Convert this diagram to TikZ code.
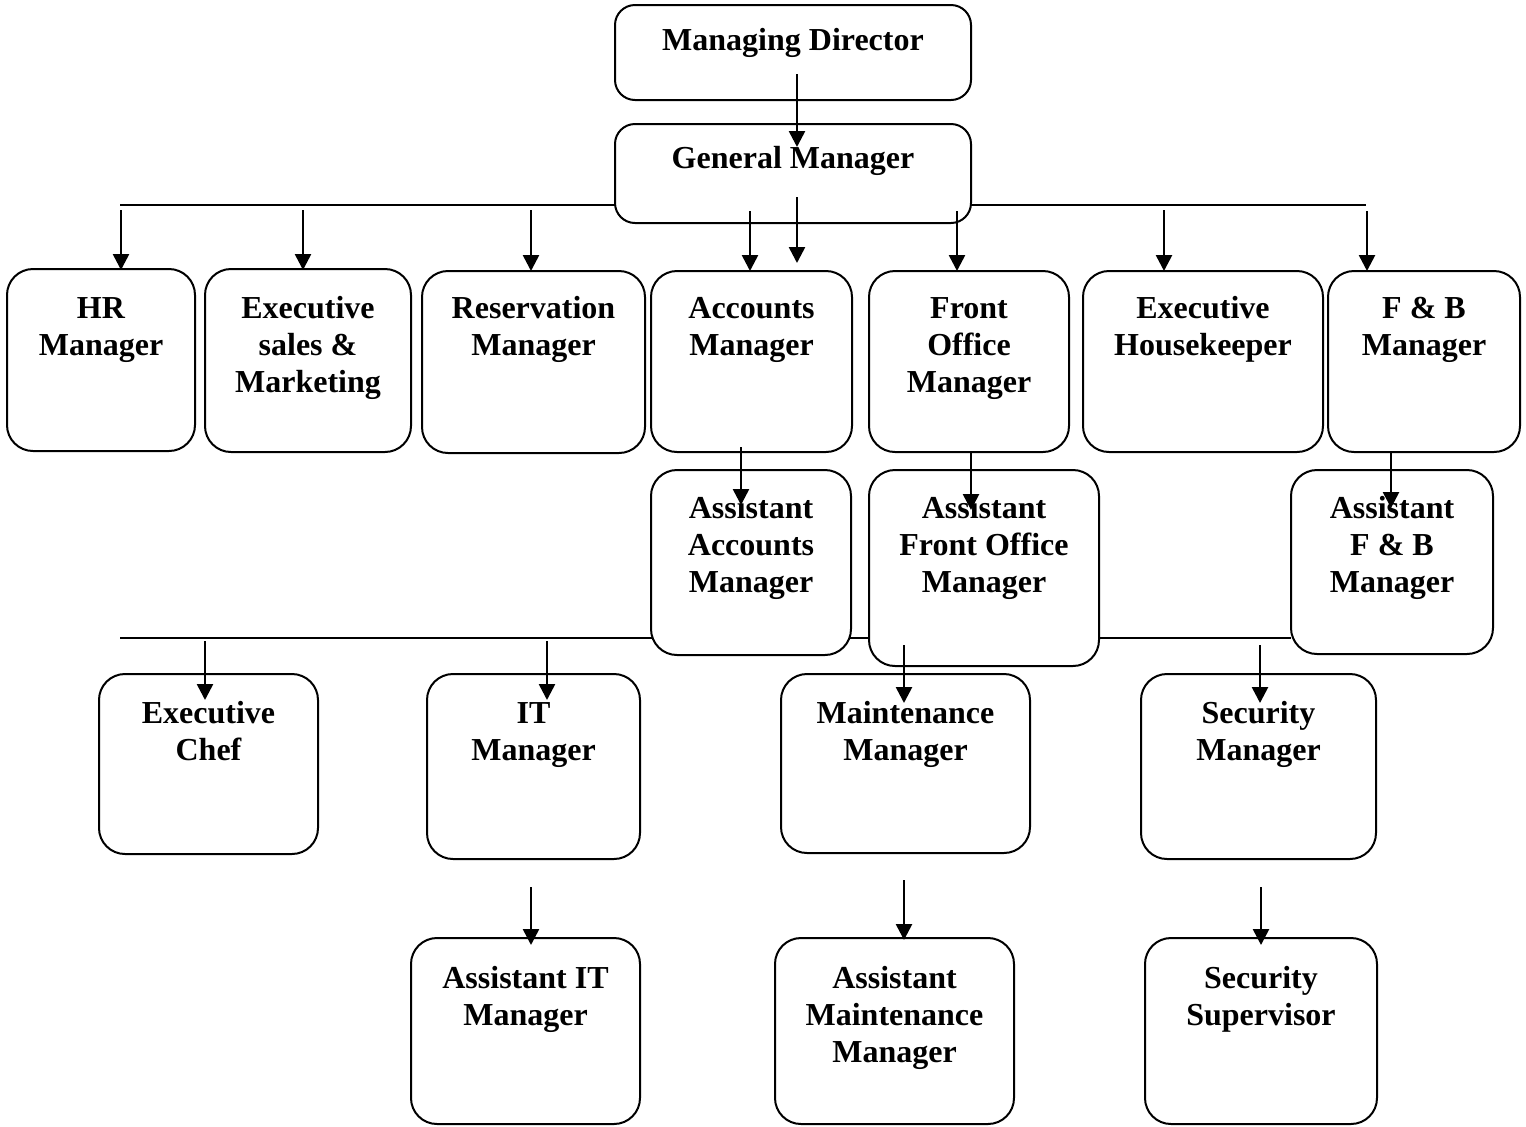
\documentclass[tikz,border=0pt]{standalone}
\usepackage{fontspec}
\setmainfont{Liberation Serif}
\usetikzlibrary{arrows.meta,fit}
\tikzset{
  obox/.style={draw, line width=1pt, fill=white, rounded corners=13pt, inner sep=0pt},
  tbox/.style={draw, line width=1pt, fill=white, rounded corners=10pt, inner sep=0pt},
  lbl/.style={anchor=base, inner sep=0pt, font={\fontsize{16}{18.5}\selectfont\bfseries}},
  arr/.style={line width=1.3pt, -{Triangle[length=8pt,width=8pt]}},
  hline/.style={line width=0.6pt}
}
% name, x1, y1, x2, y2, first baseline y, text
\newcommand\orgbox[8][obox]{%
  \node[#1, fit={(#3,#4) (#5,#6)}] (#2) {};
  \node[lbl] (#2-t) at ({(#3+#5)/2},#7) {\begin{tabular}[t]{@{}c@{}}#8\end{tabular}};
}
\newcommand\orgarrow[4]{%
  \coordinate (#1s) at (#2,#3);
  \coordinate (#1e) at (#2,#4);
  \draw[arr] (#1s) -- (#1e);
}
\begin{document}
\begin{tikzpicture}[x=0.5pt,y=-0.5pt]
\useasboundingbox (0,0) rectangle (1526,1126);
% horizontal bus lines
\coordinate (h1l) at (120,205);
\coordinate (h1r) at (1366,205);
\coordinate (h2l) at (120,638);
\coordinate (h2r) at (1291,638);
\draw[hline] (h1l) -- (h1r);
\draw[hline] (h2l) -- (h2r);
% top
\orgbox[tbox]{md}{615}{5}{971}{100}{50}{Managing Director}
\orgbox[tbox]{gm}{615}{124}{971}{223}{168}{General Manager}
% row 1
\orgbox{hr}{7}{269}{195}{451}{318}{HR\\Manager}
\orgbox{es}{205}{269}{411}{452}{318}{Executive\\sales \&\\Marketing}
\orgbox{rm}{422}{271}{645}{453}{318}{Reservation\\Manager}
\orgbox{am}{651}{271}{852}{452}{318}{Accounts\\Manager}
\orgbox{fo}{869}{271}{1069}{452}{318}{Front\\Office\\Manager}
\orgbox{eh}{1083}{271}{1323}{452}{318}{Executive\\Housekeeper}
\orgbox{fb}{1328}{271}{1520}{452}{318}{F \& B\\Manager}
% row 2
\orgbox{aam}{651}{470}{851}{655}{518}{Assistant\\Accounts\\Manager}
\orgbox{afo}{869}{470}{1099}{666}{518}{Assistant\\Front Office\\Manager}
\orgbox{afb}{1291}{470}{1493}{654}{518}{Assistant\\F \& B\\Manager}
% row 3
\orgbox{ec}{99}{674}{318}{854}{723}{Executive\\Chef}
\orgbox{it}{427}{674}{640}{859}{723}{IT\\Manager}
\orgbox{mm}{781}{674}{1030}{853}{723}{Maintenance\\Manager}
\orgbox{sm}{1141}{674}{1376}{859}{723}{Security\\Manager}
% row 4
\orgbox{ait}{411}{938}{640}{1124}{988}{Assistant IT\\Manager}
\orgbox{amm}{775}{938}{1014}{1124}{988}{Assistant\\Maintenance\\Manager}
\orgbox{ss}{1145}{938}{1377}{1124}{988}{Security\\Supervisor}
% arrows
\orgarrow{a1}{797}{74}{147}
\orgarrow{a2}{121}{210}{270}
\orgarrow{a3}{303}{210}{270}
\orgarrow{a4}{531}{210}{271}
\orgarrow{a5}{750}{211}{271}
\orgarrow{a6}{797}{197}{263}
\orgarrow{a7}{957}{211}{271}
\orgarrow{a8}{1164}{210}{271}
\orgarrow{a9}{1367}{211}{271}
\orgarrow{b1}{741}{447}{505}
\orgarrow{b2}{971}{452}{510}
\orgarrow{b3}{1391}{452}{508}
\orgarrow{c1}{205}{641}{700}
\orgarrow{c2}{547}{641}{700}
\orgarrow{c3}{904}{645}{703}
\orgarrow{c4}{1260}{645}{703}
\orgarrow{d1}{531}{887}{945}
\orgarrow{d2}{904}{880}{940}
\orgarrow{d3}{1261}{887}{945}
\end{tikzpicture}
\end{document}
